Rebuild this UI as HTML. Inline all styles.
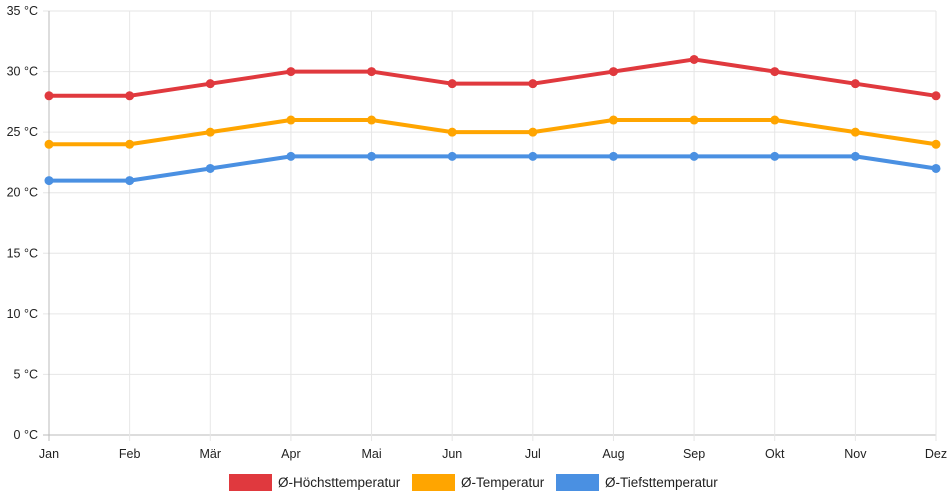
<!DOCTYPE html>
<html><head><meta charset="utf-8">
<style>
html,body{margin:0;padding:0;background:#fff;}
svg{display:block;font-family:"Liberation Sans",sans-serif;}
</style></head>
<body>
<svg id="chart" width="952" height="500" viewBox="0 0 952 500" xmlns="http://www.w3.org/2000/svg">
<g id="grid"></g>
<g id="yticks"></g>
<g id="xticks"></g>
<g id="series"></g>
<g id="legend"></g>
</svg>
<script>
const categories = ["Jan","Feb","Mär","Apr","Mai","Jun","Jul","Aug","Sep","Okt","Nov","Dez"];
const highTemps = [28,28,29,30,30,29,29,30,31,30,29,28];
const meanTemps = [24,24,25,26,26,25,25,26,26,26,25,24];
const lowTemps = [21,21,22,23,23,23,23,23,23,23,23,22];
const yTicks = [0,5,10,15,20,25,30,35];
const seriesNames = ["Ø-Höchsttemperatur","Ø-Temperatur","Ø-Tiefsttemperatur"];

const NS="http://www.w3.org/2000/svg";
const X0=49,X1=936,Y0=435,Y1=11,YMAX=35;
const x=i=>X0+(X1-X0)*i/(categories.length-1);
const y=v=>Y0-(Y0-Y1)*v/YMAX;
function mk(tag,attrs,parent){const e=document.createElementNS(NS,tag);for(const k in attrs)e.setAttribute(k,attrs[k]);parent.appendChild(e);return e;}
const grid=document.getElementById('grid'),yt=document.getElementById('yticks'),xt=document.getElementById('xticks'),ser=document.getElementById('series'),leg=document.getElementById('legend');

yTicks.forEach(v=>{
  const l=mk('line',{x1:X0-6,x2:X1,y1:y(v),y2:y(v),stroke:v===0?'#bbb':'#e6e6e6','stroke-width':1},grid);
  
  
  const t=mk('text',{x:X0-11,y:y(v)+4,'text-anchor':'end','font-size':12.5,fill:'#222'},yt);
  t.textContent=v+' °C';
  
  
});
categories.forEach((c,i)=>{
  const l=mk('line',{x1:x(i),x2:x(i),y1:Y1,y2:Y0+6,stroke:i===0?'#bbb':'#e6e6e6','stroke-width':1},grid);
  
  
  const t=mk('text',{x:x(i),y:Y0+23,'text-anchor':'middle','font-size':12.5,fill:'#222'},xt);
  t.textContent=c;
  
  
});

const colors=["#e0393e","#ffa500","#4a90e2"];
[highTemps,meanTemps,lowTemps].forEach((data,s)=>{
  const g=mk('g',{},ser);
  
  
  const p=mk('polyline',{points:data.map((v,i)=>x(i)+','+y(v)).join(' '),fill:'none',stroke:colors[s],'stroke-width':4,'stroke-linejoin':'round'},g);
  
  
  data.forEach((v,i)=>{
    const c=mk('circle',{cx:x(i),cy:y(v),r:4.5,fill:colors[s]},g);
    
    
  });
});

const legX=[229,412,556];
seriesNames.forEach((n,s)=>{
  const g=mk('g',{},leg);
  
  
  mk('rect',{x:legX[s],y:474,width:43,height:17,fill:colors[s]},g);
  const t=mk('text',{x:legX[s]+49,y:487,'font-size':13.5,fill:'#222'},g);
  t.textContent=n;
});
</script>
</body></html>
